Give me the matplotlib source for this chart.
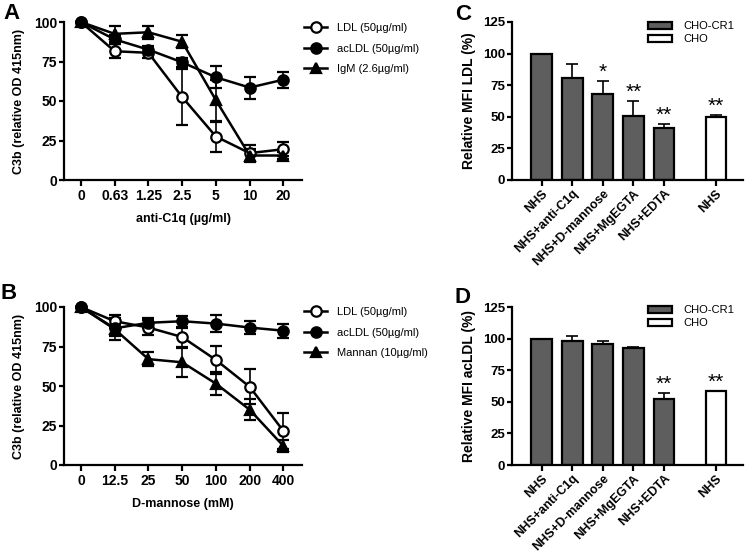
import matplotlib
matplotlib.use('Agg')
import matplotlib.pyplot as plt
from matplotlib.lines import Line2D
from matplotlib.patches import Patch
import numpy as np

plt.rcParams['font.family'] = ['Liberation Sans', 'DejaVu Sans']

# panel A: anti-C1q titration
conc_a = ['0', '0.63', '1.25', '2.5', '5', '10', '20']
ldl_a = [100, 81.5, 80.5, 52.5, 27.5, 17, 19.5]
ldl_a_err = [0, 4.5, 3, 18, 9.5, 5, 4.5]
acldl_a = [100, 89, 82.5, 74.5, 65, 58.5, 63.5]
acldl_a_err = [0, 3, 2, 3, 7, 7, 5]
igm_a = [100, 92.5, 93.5, 87.5, 50.5, 15.5, 15.5]
igm_a_err = [0, 5, 4, 4, 13, 4, 2]

# panel B: D-mannose titration
conc_b = ['0', '12.5', '25', '50', '100', '200', '400']
ldl_b = [100, 91, 87, 81, 66.5, 49.5, 21.5]
ldl_b_err = [0, 4, 4.5, 6, 9, 11, 11.5]
acldl_b = [100, 86.5, 90, 91, 89.5, 87, 85]
acldl_b_err = [0, 5, 3, 3.5, 5.5, 4, 4.5]
mannan_b = [100, 86, 67, 65, 51.5, 35, 12]
mannan_b_err = [0, 7, 4.5, 9, 7.5, 6.5, 4]

# panels C/D: bars
bar_labels = ['NHS', 'NHS+anti-C1q', 'NHS+D-mannose', 'NHS+MgEGTA', 'NHS+EDTA']
cho_label = 'NHS'
cr1_ldl = [100, 80.8, 68.2, 50.8, 41.0]
cr1_ldl_err = [0, 11.3, 10.2, 11.6, 3.2]
cho_ldl = 50
cho_ldl_err = 1.8
stars_ldl = ['', '', '*', '**', '**']
cho_star_ldl = '**'

cr1_acldl = [100, 98.4, 95.5, 92.6, 52.4]
cr1_acldl_err = [0, 3.7, 2.9, 0.6, 4.4]
cho_acldl = 58.2
cho_acldl_err = 0.5
stars_acldl = ['', '', '', '', '**']
cho_star_acldl = '**'

W, H = 745, 553
fig = plt.figure(figsize=(W / 100, H / 100), dpi=100)


def px_axes(left, top, right, bottom):
    return fig.add_axes([left / W, 1 - bottom / H, (right - left) / W, (bottom - top) / H])


def style(ax, xsize, ysize, xpad=2):
    for s in ['top', 'right']:
        ax.spines[s].set_visible(False)
    for s in ['left', 'bottom']:
        ax.spines[s].set_linewidth(1.6)
    ax.tick_params(axis='y', width=1.6, length=3.5, pad=1.5, labelsize=ysize)
    ax.tick_params(axis='x', width=1.6, length=4.5, pad=xpad, labelsize=xsize)
    for t in ax.get_xticklabels() + ax.get_yticklabels():
        t.set_fontweight('bold')


def line_panel(ax, conc, series, xlabel, leg_top):
    x = np.arange(len(conc))
    handles = []
    for y, e, mk, fc, lab in series:
        ax.errorbar(x, y, yerr=e, color='black', lw=1.8, marker=mk, ms=7.5,
                    mfc=fc, mec='black', mew=1.6, capsize=4, elinewidth=1.2,
                    capthick=1.2, clip_on=False, zorder=3)
        handles.append(Line2D([0], [0], color='black', lw=1.8, marker=mk, ms=7.5,
                              mfc=fc, mec='black', mew=1.6, label=lab))
    ax.set_xlim(-0.5, 6.55)
    ax.set_ylim(0, 100)
    ax.set_xticks(x)
    ax.set_xticklabels(conc)
    ax.set_yticks([0, 25, 50, 75, 100])
    ax.set_xlabel(xlabel, fontsize=9, fontweight='bold', labelpad=7)
    ax.set_ylabel('C3b (relative OD 415nm)', fontsize=9, fontweight='bold', labelpad=6)
    style(ax, 10, 10)
    ax.legend(handles=handles, loc='upper left', bbox_to_anchor=(304 / W, 1 - leg_top / H),
              bbox_transform=fig.transFigure, frameon=False, fontsize=8,
              handlelength=2.1, labelspacing=0.95, handletextpad=0.9,
              borderpad=0, borderaxespad=0)


def bar_panel(ax, vals, errs, cho, cho_err, stars, cho_star, ylabel, leg_top):
    x = np.arange(len(vals))
    x_cho = 5.7
    ax.bar(x, vals, width=0.68, color='#5e5e5e', edgecolor='black', lw=1.6, zorder=2)
    ax.bar([x_cho], [cho], width=0.68, color='white', edgecolor='black', lw=1.6, zorder=2)
    ax.errorbar(x, vals, yerr=[np.zeros(len(errs)), errs], fmt='none', ecolor='black',
                elinewidth=1.2, capsize=4, capthick=1.2, zorder=3)
    ax.errorbar([x_cho], [cho], yerr=[[0], [cho_err]], fmt='none', ecolor='black',
                elinewidth=1.2, capsize=4, capthick=1.2, zorder=3)
    for xi, v, e, s in zip(list(x) + [x_cho], list(vals) + [cho],
                           list(errs) + [cho_err], list(stars) + [cho_star]):
        if s:
            ax.text(xi, v + e + 2.5, s, ha='center', va='baseline', fontsize=15)
    ax.set_xlim(-0.97, 6.58)
    ax.set_ylim(0, 125)
    ax.set_yticks([0, 25, 50, 75, 100, 125])
    ax.set_xticks(list(x) + [x_cho])
    ax.set_xticklabels(bar_labels + [cho_label], rotation=45, ha='right',
                       rotation_mode='anchor')
    ax.set_ylabel(ylabel, fontsize=10, fontweight='bold', labelpad=5)
    style(ax, 9, 9.5, xpad=1)
    handles = [Patch(facecolor='#5e5e5e', edgecolor='black', lw=1.6, label='CHO-CR1'),
               Patch(facecolor='white', edgecolor='black', lw=1.6, label='CHO')]
    ax.legend(handles=handles, loc='upper left', bbox_to_anchor=(648 / W, 1 - leg_top / H),
              bbox_transform=fig.transFigure, frameon=False, fontsize=8,
              handlelength=2.2, handleheight=0.6, labelspacing=0.3, handletextpad=1.0,
              borderpad=0, borderaxespad=0)


axA = px_axes(64, 22, 302, 180)
line_panel(axA, conc_a, [(ldl_a, ldl_a_err, 'o', 'white', 'LDL (50µg/ml)'),
                         (acldl_a, acldl_a_err, 'o', 'black', 'acLDL (50µg/ml)'),
                         (igm_a, igm_a_err, '^', 'black', 'IgM (2.6µg/ml)')],
           'anti-C1q (µg/ml)', 23)

axB = px_axes(64, 307, 302, 465)
line_panel(axB, conc_b, [(ldl_b, ldl_b_err, 'o', 'white', 'LDL (50µg/ml)'),
                         (acldl_b, acldl_b_err, 'o', 'black', 'acLDL (50µg/ml)'),
                         (mannan_b, mannan_b_err, '^', 'black', 'Mannan (10µg/ml)')],
           'D-mannose (mM)', 307)

axC = px_axes(512, 22, 743, 180)
bar_panel(axC, cr1_ldl, cr1_ldl_err, cho_ldl, cho_ldl_err, stars_ldl, cho_star_ldl,
          'Relative MFI LDL (%)', 21)

axD = px_axes(512, 307, 743, 465)
bar_panel(axD, cr1_acldl, cr1_acldl_err, cho_acldl, cho_acldl_err, stars_acldl,
          cho_star_acldl, 'Relative MFI acLDL (%)', 305)

for letter, xp, yp in [('A', 3, 3), ('B', 1, 283), ('C', 455, 4), ('D', 454, 287)]:
    fig.text(xp / W, 1 - yp / H, letter, fontsize=16, fontweight='bold', va='top', ha='left')

fig.savefig('out.png', dpi=100)
